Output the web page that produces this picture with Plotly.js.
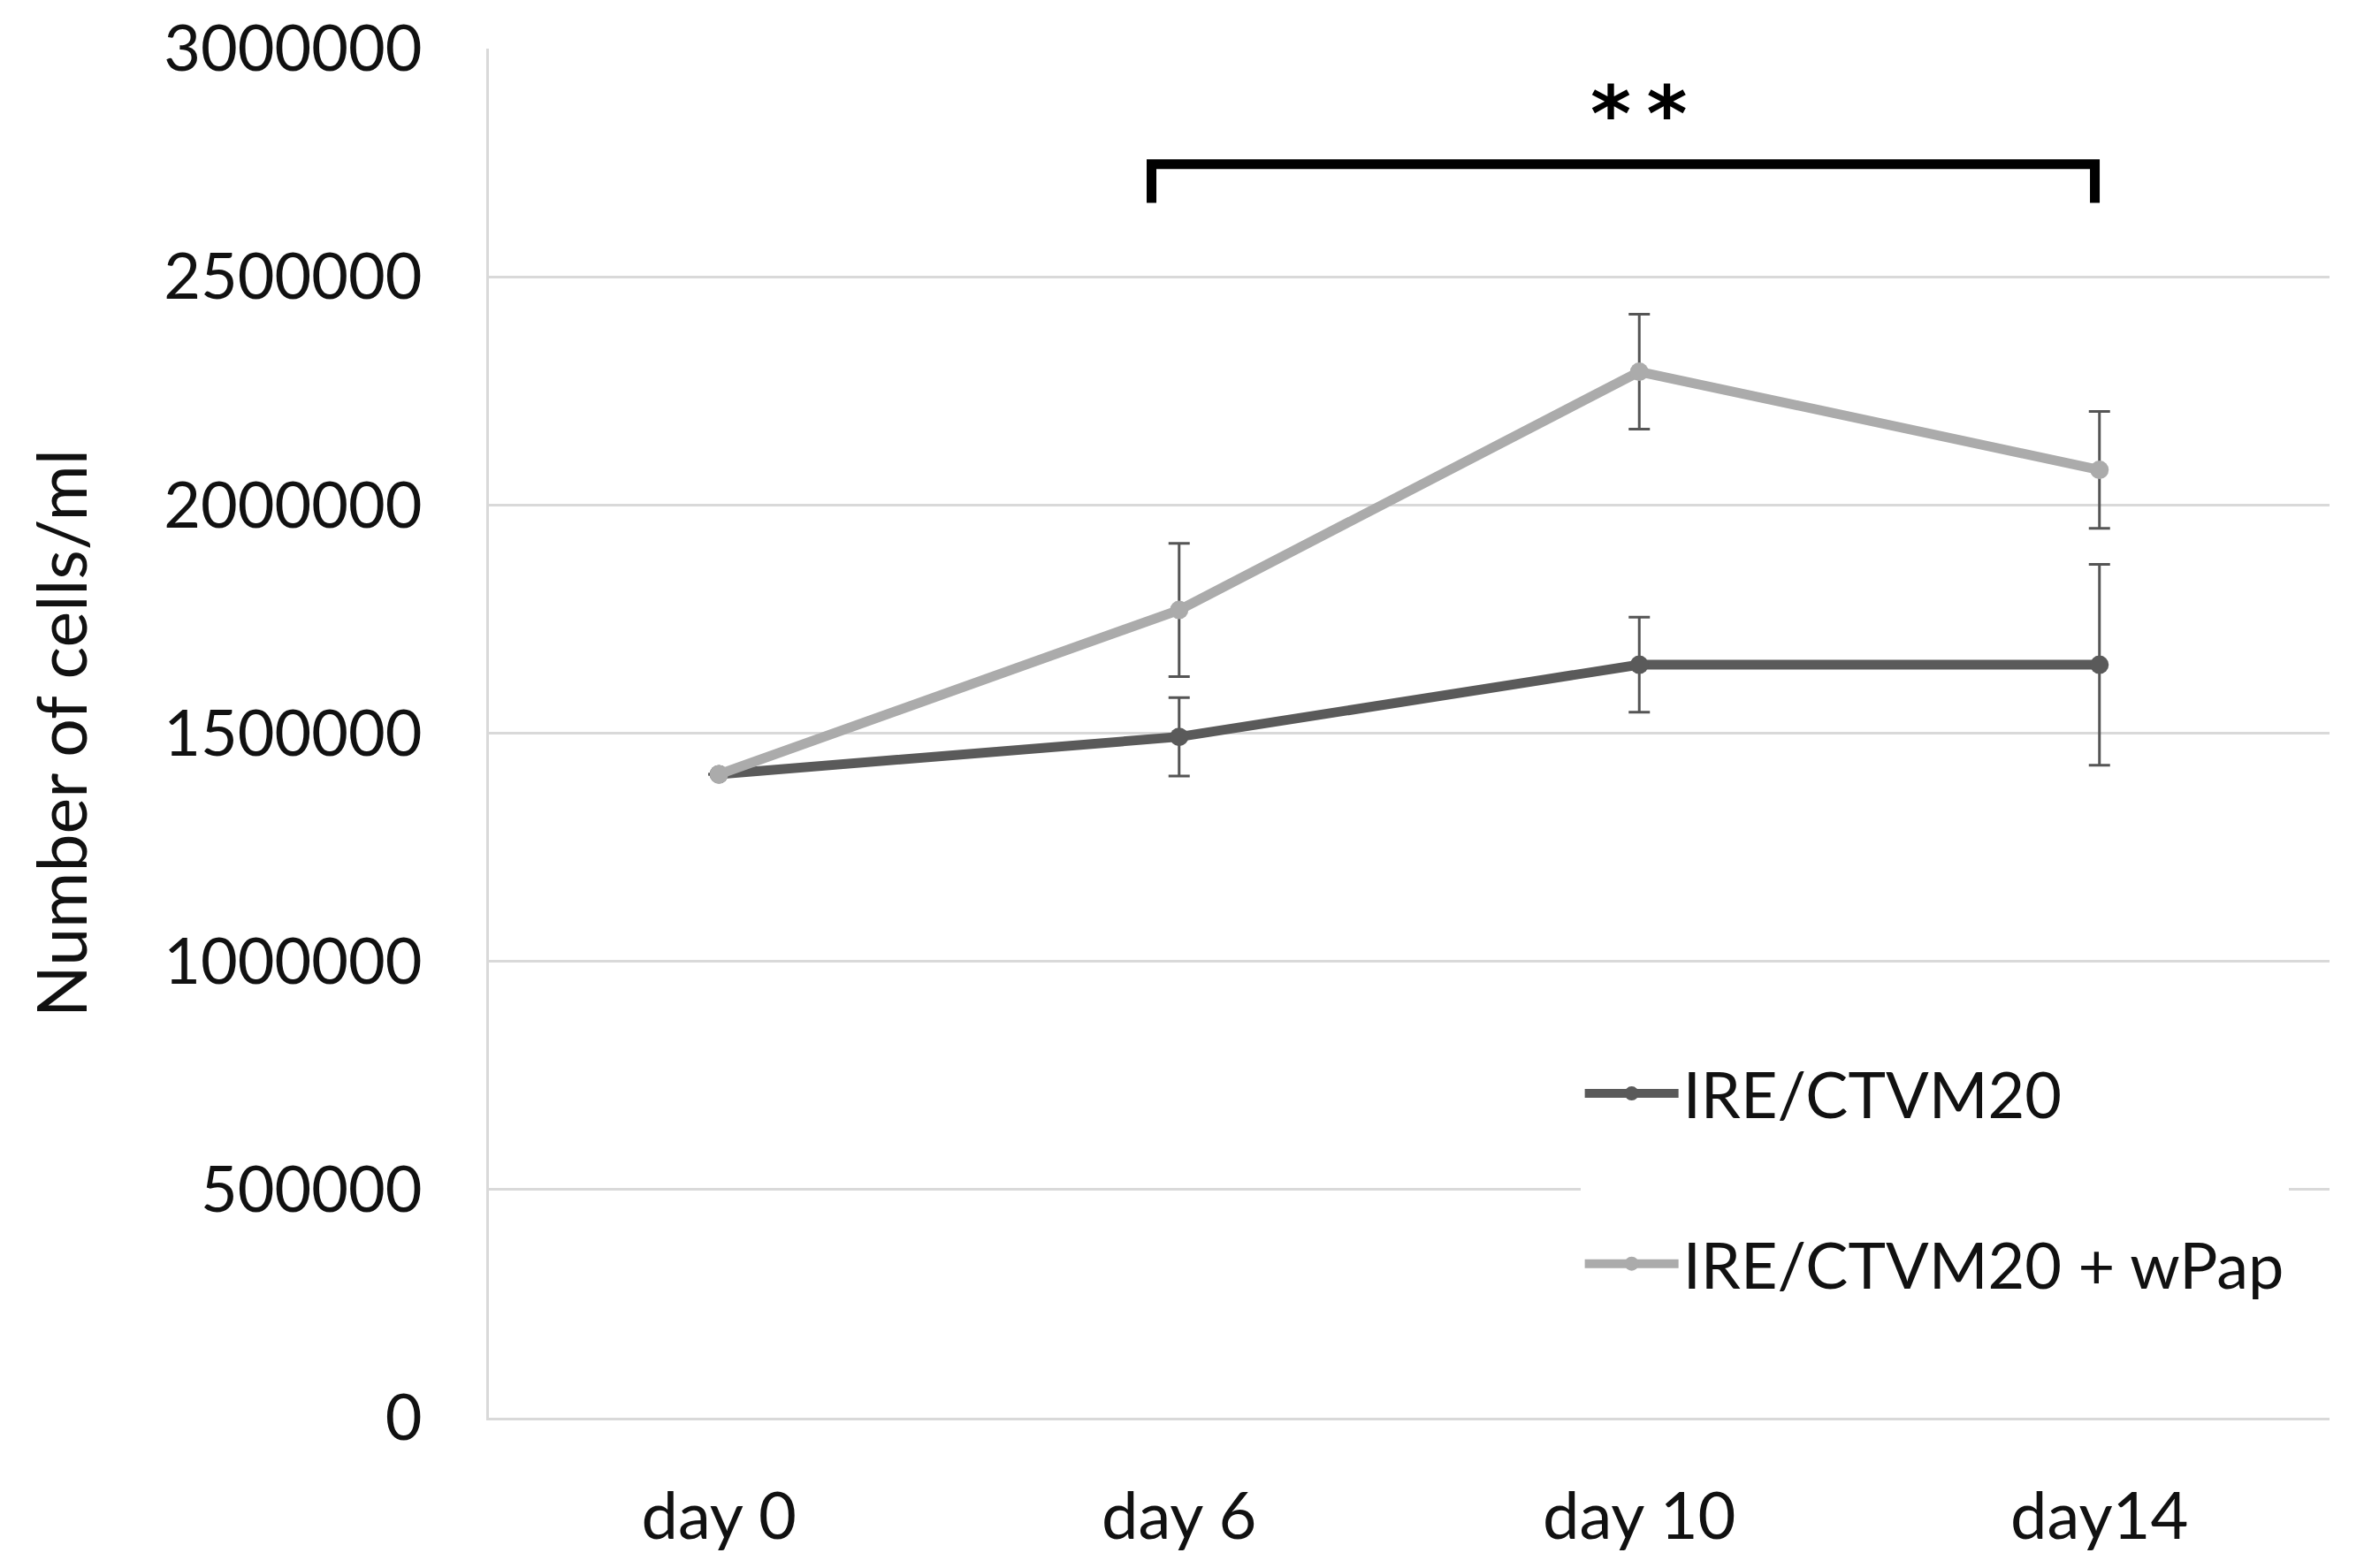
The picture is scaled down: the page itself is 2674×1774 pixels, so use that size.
<!DOCTYPE html>
<html>
<head>
<meta charset="utf-8">
<script src="https://cdn.plot.ly/plotly-3.0.1.min.js"></script>
<style>
html,body{margin:0;padding:0;background:#fff;}
#chart{width:2674px;height:1774px;}
</style>
</head>
<body>
<div id="chart"></div>
<script>
// ---- data ----
var categories = ['day 0', 'day 6', 'day 10', 'day14'];
var seriesNames = ['IRE/CTVM20', 'IRE/CTVM20 + wPap'];
var controlValues = [1410000, 1492000, 1650000, 1650000];
var controlErrors = [null, 86000, 104000, 220000];
var wpapValues = [1410000, 1770000, 2292000, 2077000];
var wpapErrors = [null, 146000, 126000, 128000];
var yTickValues = [0, 500000, 1000000, 1500000, 2000000, 2500000, 3000000];
var significanceLabel = '*\u2009*';
var bracketFrom = 0.94, bracketTo = 2.99;       // category serial numbers
var bracketTop = 2747000, bracketLeg = 2662000;  // y values
var starsX = 2, starsY = 2858000;

var fontFamily = 'Lato, "Open Sans", sans-serif';
var textColor = '#111111';
var gridColor = '#d9d9d9';
var darkColor = '#5a5a5a';
var lightColor = '#ababab';

var traces = [
  {
    x: categories, y: controlValues, name: seriesNames[0],
    type: 'scatter', mode: 'lines+markers',
    legendgroup: 'g1',
    line: {color: darkColor, width: 11},
    marker: {color: darkColor, size: 21, symbol: 'circle'},
    error_y: {type: 'data', array: controlErrors, visible: true, color: '#555555', thickness: 3, width: 12}
  },
  {
    x: categories, y: wpapValues, name: seriesNames[1],
    type: 'scatter', mode: 'lines+markers',
    legendgroup: 'g2',
    line: {color: lightColor, width: 11},
    marker: {color: lightColor, size: 21, symbol: 'circle'},
    error_y: {type: 'data', array: wpapErrors, visible: true, color: '#555555', thickness: 3, width: 12}
  }
];

var layout = {
  width: 2674, height: 1774,
  paper_bgcolor: '#ffffff', plot_bgcolor: '#ffffff',
  margin: {l: 553, r: 39, t: 55, b: 170, pad: 0},
  font: {family: fontFamily, size: 72, color: textColor},
  showlegend: true,
  legend: {
    x: 0.593, xanchor: 'left', y: 0.2713, yanchor: 'top',
    bgcolor: '#ffffff', borderwidth: 0,
    traceorder: 'grouped', tracegroupgap: 96,
    font: {family: fontFamily, size: 72, color: textColor},
    itemwidth: 106
  },
  xaxis: {
    type: 'category', range: [-0.5, 3.5],
    showgrid: false, zeroline: false,
    showline: true, linecolor: gridColor, linewidth: 3,
    ticks: '', ticklabelstandoff: 45,
    tickfont: {family: fontFamily, size: 74, color: textColor},
    fixedrange: true
  },
  yaxis: {
    range: [0, 3000000], tickvals: yTickValues, tickformat: 'd',
    showgrid: true, gridcolor: gridColor, gridwidth: 3,
    zeroline: false, showline: true, linecolor: gridColor, linewidth: 3,
    ticks: '', ticklabelstandoff: 58,
    tickfont: {family: fontFamily, size: 72, color: textColor},
    title: {text: 'Number of cells/ml', font: {family: fontFamily, size: 77, color: textColor}, standoff: 62},
    fixedrange: true
  },
  shapes: [
    {
      type: 'path', xref: 'x', yref: 'y',
      path: 'M ' + bracketFrom + ',' + bracketLeg + ' L ' + bracketFrom + ',' + bracketTop +
            ' L ' + bracketTo + ',' + bracketTop + ' L ' + bracketTo + ',' + bracketLeg,
      line: {color: '#000000', width: 11}
    }
  ],
  annotations: [
    {
      x: starsX, y: starsY, xref: 'x', yref: 'y', text: '<b>' + significanceLabel + '</b>',
      showarrow: false, font: {family: '"DejaVu Sans", sans-serif', size: 88, color: '#000000'}
    }
  ]
};

Plotly.newPlot('chart', traces, layout, {displayModeBar: false, staticPlot: true});
</script>
</body>
</html>
